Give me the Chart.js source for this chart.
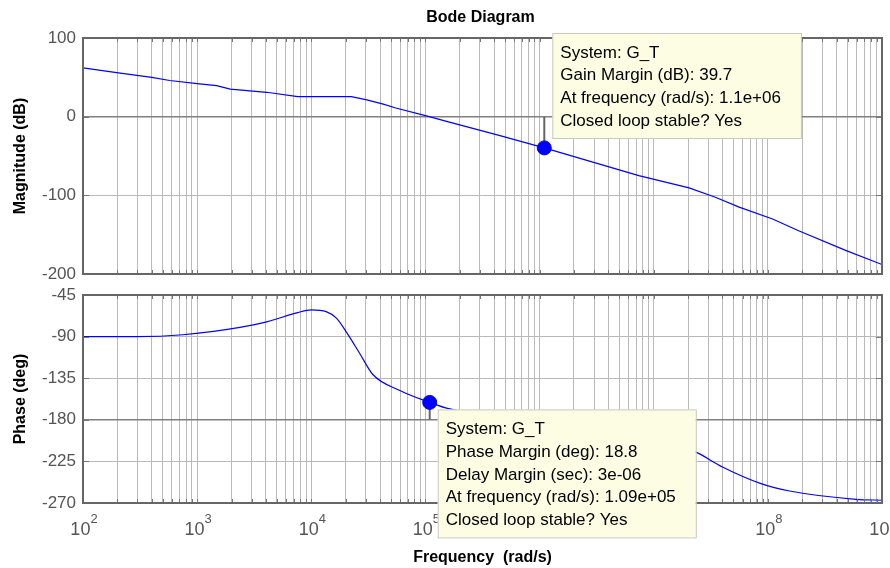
<!DOCTYPE html>
<html>
<head>
<meta charset="utf-8">
<script src="https://cdn.jsdelivr.net/npm/chart.js@4"></script>
<style>
  body { margin: 0; background: #fff; }
  #wrap { position: relative; width: 890px; height: 568px; }
  #wrap canvas { position: absolute; left: 0; top: 0; }
</style>
</head>
<body>
<div id="wrap">
  <canvas id="mag" width="890" height="568"></canvas>
  <canvas id="phase" width="890" height="568"></canvas>
</div>
<script>
// values
const magFreq = [100, 197, 400, 575, 1000, 1480, 1950, 4070, 7600, 22400, 30000, 42700, 55000, 1e5, 1.62e5, 4.5e5, 1.1e6, 3.3e6, 7.4e6, 2.04e7, 3.47e7, 5.6e7, 1.1e8, 1.86e8, 4.8e8, 1e9];
const magDb = [62, 56, 50, 46, 42, 39.4, 35, 31, 25.4, 25.4, 21.6, 16, 11, 1.3, -7, -24, -39.7, -60, -75, -90.6, -102.5, -115, -130, -145, -170, -188];

const phaseFreq = [100, 295, 750, 2370, 4070, 7600, 10000, 13500, 16600, 20500, 26500, 34600, 59000, 1.09e5, 1.6e5, 4e5, 1.1e6, 3.2e6, 1e7, 2.34e7, 4e7, 8.7e7, 1.55e8, 5.9e8, 1e9];
const phaseDeg = [-90, -90, -88, -80, -74, -64, -61, -63, -70, -86, -108, -131, -148, -161.2, -168, -175, -180, -188, -200, -215, -231, -249, -257, -266, -267];

const decades = [2, 3, 4, 5, 6, 7, 8, 9];
const magTicks = [-200, -100, 0, 100];
const phaseTicks = [-270, -225, -180, -135, -90, -45];

const gmFreq = 1.1e6;
const gmDb = 39.7;
const pmFreq = 1.09e5;
const pmDeg = 18.8;

const gmNote = ['System: G_T', 'Gain Margin (dB): 39.7', 'At frequency (rad/s): 1.1e+06', 'Closed loop stable? Yes'];
const pmNote = ['System: G_T', 'Phase Margin (deg): 18.8', 'Delay Margin (sec): 3e-06', 'At frequency (rad/s): 1.09e+05', 'Closed loop stable? Yes'];

const FONT = "'Liberation Sans', Arial, sans-serif";
Chart.defaults.font.family = FONT;

// grid lines at 1..9 x 10^k
const gridFreq = [];
decades.forEach(d => {
  for (let m = 1; m <= 9; m++) {
    if (d === 9 && m > 1) break;
    gridFreq.push(m * Math.pow(10, d));
  }
});

const toXY = (xs, ys) => xs.map((x, i) => ({ x, y: ys[i] }));

function drawNote(ctx, left, top, lines) {
  ctx.save();
  ctx.font = '17px ' + FONT;
  const w = Math.max(...lines.map(l => ctx.measureText(l).width)) + 28;
  const h = lines.length * 23 + 13;
  ctx.fillStyle = '#fdfde4';
  ctx.fillRect(left, top, w, h);
  ctx.strokeStyle = '#c9c9c0';
  ctx.lineWidth = 1;
  ctx.strokeRect(left + 0.5, top + 0.5, w, h);
  ctx.fillStyle = '#000';
  ctx.textAlign = 'left';
  ctx.textBaseline = 'middle';
  lines.forEach((l, i) => ctx.fillText(l, left + 8, top + 20 + i * 22.7));
  ctx.restore();
}

function drawFrame(chart) {
  const { ctx, chartArea: a, scales } = chart;
  ctx.save();
  ctx.strokeStyle = '#777';
  ctx.lineWidth = 1;
  ctx.beginPath();
  gridFreq.forEach(v => {
    const px = Math.round(scales.x.getPixelForValue(v)) + 0.5;
    ctx.moveTo(px, a.top); ctx.lineTo(px, a.top + 4);
    ctx.moveTo(px, a.bottom); ctx.lineTo(px, a.bottom - 4);
  });
  scales.y.ticks.forEach(t => {
    const py = Math.round(scales.y.getPixelForValue(t.value)) + 0.5;
    ctx.moveTo(a.left, py); ctx.lineTo(a.left + 6, py);
    ctx.moveTo(a.right, py); ctx.lineTo(a.right - 6, py);
  });
  ctx.stroke();
  ctx.strokeStyle = '#666';
  ctx.lineWidth = 2;
  ctx.strokeRect(a.left, a.top, a.right - a.left, a.bottom - a.top);
  ctx.restore();
}

function xScale() {
  return {
    type: 'logarithmic',
    min: 1e2,
    max: 1e9,
    afterBuildTicks: s => { s.ticks = gridFreq.map(v => ({ value: v })); },
    ticks: { display: false },
    grid: { color: '#bababa', lineWidth: 1, drawTicks: false },
    border: { display: false }
  };
}

function yScale(ticks, title, darkValue) {
  return {
    min: ticks[0],
    max: ticks[ticks.length - 1],
    afterBuildTicks: s => { s.ticks = ticks.map(v => ({ value: v })); },
    afterFit: s => { s.width = 83; },
    ticks: { color: '#555', font: { size: 17 }, padding: 7 },
    grid: {
      drawTicks: false,
      color: c => c.tick && c.tick.value === darkValue ? '#808080' : '#b8b8b8',
      lineWidth: c => c.tick && c.tick.value === darkValue ? 1.6 : 1
    },
    border: { display: false },
    title: {
      display: true, text: title, color: '#000',
      font: { size: 16, weight: 'bold' },
      padding: { top: 11, bottom: 0 }
    }
  };
}

const common = {
  responsive: false,
  animation: false,
  events: [],
  plugins: { legend: { display: false }, tooltip: { enabled: false } }
};

// magnitude
new Chart(document.getElementById('mag'), {
  type: 'line',
  data: {
    datasets: [
      { data: [{ x: gmFreq, y: -gmDb }], showLine: false, pointRadius: 7, pointBackgroundColor: '#0000ff', pointBorderColor: '#0000ff', order: 0 },
      { data: toXY(magFreq, magDb), borderColor: '#0000ff', borderWidth: 1.2, pointRadius: 0, order: 1 },
      { data: [{ x: gmFreq, y: 0 }, { x: gmFreq, y: -gmDb }], borderColor: '#666', borderWidth: 2, pointRadius: 0, order: 2 }
    ]
  },
  options: {
    ...common,
    layout: { padding: { left: 0, top: 38, right: 7, bottom: 294 } },
    scales: {
      x: { ...xScale(), afterFit: s => { s.height = 0; } },
      y: yScale(magTicks, 'Magnitude (dB)', 0)
    }
  },
  plugins: [{
    id: 'magExtras',
    afterDraw(chart) {
      const { ctx, chartArea: a, scales } = chart;
      drawFrame(chart);
      ctx.save();
      ctx.font = 'bold 16px ' + FONT;
      ctx.fillStyle = '#000';
      ctx.textAlign = 'center';
      ctx.textBaseline = 'alphabetic';
      ctx.fillText('Bode Diagram', (a.left + a.right) / 2 - 2, 22);
      ctx.restore();
      const px = scales.x.getPixelForValue(gmFreq);
      drawNote(ctx, px + 8, a.top - 5, gmNote);
    }
  }]
});

// phase
new Chart(document.getElementById('phase'), {
  type: 'line',
  data: {
    datasets: [
      { data: [{ x: pmFreq, y: -180 + pmDeg }], showLine: false, pointRadius: 7, pointBackgroundColor: '#0000ff', pointBorderColor: '#0000ff', order: 0 },
      { data: toXY(phaseFreq, phaseDeg), borderColor: '#0000ff', borderWidth: 1.2, pointRadius: 0, cubicInterpolationMode: 'monotone', order: 1 },
      { data: [{ x: pmFreq, y: -180 }, { x: pmFreq, y: -180 + pmDeg }], borderColor: '#666', borderWidth: 2, pointRadius: 0, order: 2 }
    ]
  },
  options: {
    ...common,
    layout: { padding: { left: 0, top: 295, right: 7, bottom: 0 } },
    scales: {
      x: {
        ...xScale(),
        afterFit: s => { s.height = 65; },
        title: {
          display: true, text: 'Frequency  (rad/s)', color: '#000',
          font: { size: 16, weight: 'bold' },
          padding: { top: 0, bottom: 1 }
        }
      },
      y: yScale(phaseTicks, 'Phase (deg)', -180)
    }
  },
  plugins: [{
    id: 'phaseExtras',
    afterDraw(chart) {
      const { ctx, chartArea: a, scales } = chart;
      drawFrame(chart);
      // decade labels with raised exponents
      ctx.save();
      ctx.fillStyle = '#555';
      ctx.textAlign = 'left';
      ctx.textBaseline = 'alphabetic';
      decades.forEach(d => {
        const px = scales.x.getPixelForValue(Math.pow(10, d));
        ctx.font = '18px ' + FONT;
        const w1 = ctx.measureText('10').width;
        ctx.font = '13px ' + FONT;
        const w2 = ctx.measureText(String(d)).width;
        const left = px - (w1 + w2) / 2 + 1;
        ctx.font = '18px ' + FONT;
        ctx.fillText('10', left, a.bottom + 32);
        ctx.font = '13px ' + FONT;
        ctx.fillText(String(d), left + w1, a.bottom + 20);
      });
      ctx.restore();
      const px = scales.x.getPixelForValue(pmFreq);
      const py = scales.y.getPixelForValue(-180 + pmDeg);
      drawNote(ctx, px + 8, py + 7, pmNote);
    }
  }]
});
</script>
</body>
</html>
